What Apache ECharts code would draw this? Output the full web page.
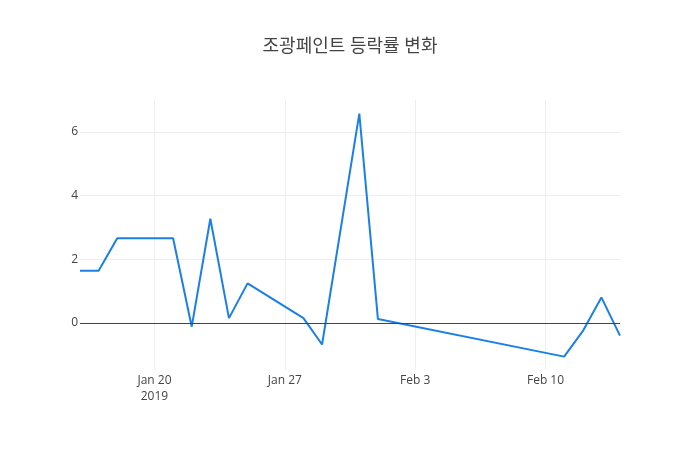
<!DOCTYPE html>
<html>
<head>
<meta charset="utf-8">
<script src="https://cdn.jsdelivr.net/npm/echarts@6/dist/echarts.min.js"></script>
<style>
  html, body { margin: 0; padding: 0; background: #fff; }
  #main { width: 700px; height: 450px; }
</style>
</head>
<body>
<div id="main"></div>
<script>
// 거래일
const dates = [
  '2019-01-16', '2019-01-17', '2019-01-18', '2019-01-21', '2019-01-22',
  '2019-01-23', '2019-01-24', '2019-01-25', '2019-01-28', '2019-01-29',
  '2019-01-31', '2019-02-01', '2019-02-11', '2019-02-12', '2019-02-13',
  '2019-02-14'
]
// 등락률 (%)
const rates = [
  1.64, 1.64, 2.66, 2.66, -0.12,
  3.27, 0.15, 1.24, 0.15, -0.68,
  6.57, 0.12, -1.06, -0.26, 0.80,
  -0.40
]
// 눈금
const xTicks = ['2019-01-20', '2019-01-27', '2019-02-03', '2019-02-10']
const yTicks = [0, 2, 4, 6]

// 날짜 -> 타임스탬프 (UTC)
const toTime = s => Date.parse(s + 'T00:00:00Z')
const months = ['Jan', 'Feb', 'Mar', 'Apr', 'May', 'Jun', 'Jul', 'Aug', 'Sep', 'Oct', 'Nov', 'Dec']

const dom = document.querySelector('#main')
const myChart = echarts.init(dom)

const option = {
  animation: false,
  textStyle: { fontFamily: '"Open Sans", "Noto Sans CJK KR", sans-serif' },
  title: {
    text: '조광페인트 등락률 변화',
    left: 'center',
    top: 33,
    textStyle: {
      fontSize: 18,
      fontWeight: 'normal',
      color: '#444',
      fontFamily: '"Open Sans", "Noto Sans CJK KR", sans-serif'
    }
  },
  grid: {
    left: 80,
    right: 80,
    top: 100,
    bottom: 80
  },
  // x축: 타임스탬프 값 축
  xAxis: {
    type: 'value',
    min: toTime(dates[0]),
    max: toTime(dates[dates.length - 1]),
    axisLine: { show: false },
    axisTick: {
      show: false,
      customValues: xTicks.map(toTime)
    },
    splitLine: {
      show: true,
      lineStyle: { color: '#eee', width: 1 }
    },
    axisLabel: {
      customValues: xTicks.map(toTime),
      color: '#444',
      fontSize: 12,
      margin: 3,
      lineHeight: 16,
      formatter: function (v) {
        const d = new Date(v)
        const s = months[d.getUTCMonth()] + ' ' + d.getUTCDate()
        return v === toTime(xTicks[0]) ? s + '\n' + d.getUTCFullYear() : s
      }
    }
  },
  yAxis: {
    type: 'value',
    min: -1.48,
    max: 7.0,
    axisLine: { show: false },
    axisTick: { show: false, customValues: yTicks },
    splitLine: {
      show: true,
      lineStyle: { color: '#eee', width: 1 }
    },
    axisLabel: {
      customValues: yTicks,
      color: '#444',
      fontSize: 12,
      margin: 2
    }
  },
  series: [
    {
      type: 'line',
      data: dates.map((d, i) => [toTime(d), rates[i]]),
      showSymbol: false,
      symbol: 'none',
      lineStyle: { color: '#1a80e6', width: 2 },
      itemStyle: { color: '#1a80e6' },
      // 0 기준선
      markLine: {
        silent: true,
        symbol: 'none',
        label: { show: false },
        lineStyle: { color: '#444', width: 1, type: 'solid' },
        data: [{ yAxis: 0 }]
      },
      z: 3
    }
  ]
}

myChart.setOption(option)
</script>
</body>
</html>
